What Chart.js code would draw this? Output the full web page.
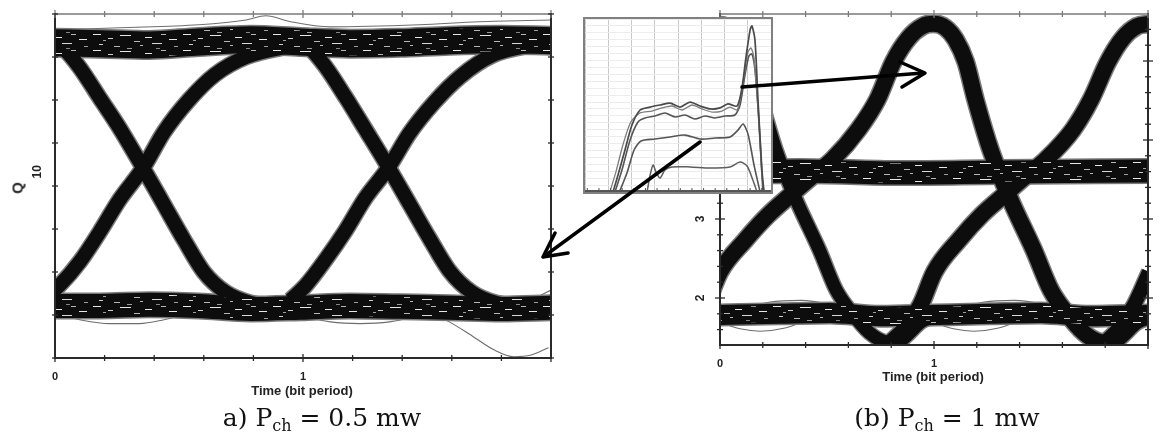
<!DOCTYPE html>
<html>
<head>
<meta charset="utf-8">
<script src="https://cdn.jsdelivr.net/npm/chart.js@4.4.1/dist/chart.umd.min.js"></script>
<style>
  html, body { margin: 0; padding: 0; background: #fff; }
  #wrap { position: relative; width: 1169px; height: 436px; overflow: hidden; background: #fff; }
  canvas { position: absolute; }
  #left  { left: 0; top: 0; }
  #right { left: 680px; top: 0; }
  #insetBox { position: absolute; left: 583px; top: 17px; width: 186px; height: 173px;
              border: 2px solid #808080; background: #fff; }
  #inset { left: 0; top: 0; }
  .axt { position: absolute; font: bold 13px "Liberation Sans", Arial, sans-serif; color: #222;
         transform: translateX(-50%); white-space: nowrap; line-height: 13px; }
  .qlab { position: absolute; font: bold 15px "Liberation Sans", Arial, sans-serif; color: #222;
          transform: translate(-50%, -50%) rotate(-90deg); line-height: 15px; }
  .cap { position: absolute; top: 403px; font-family: "DejaVu Serif", serif; font-size: 25px;
         color: #111; white-space: nowrap; transform: translateX(-50%); }
  .cap sub { font-size: 16px; vertical-align: -5px; line-height: 0; }
  svg { position: absolute; left: 0; top: 0; }
</style>
</head>
<body>
<div id="wrap">
  <canvas id="left" width="565" height="400"></canvas>
  <canvas id="right" width="489" height="400"></canvas>
  <div id="insetBox"><canvas id="inset" width="186" height="173"></canvas></div>

  <div class="qlab" style="left:17px; top:188px;">Q</div>
  <div class="axt" style="left:302px; top:384px;">Time (bit period)</div>
  <div class="axt" style="left:933px; top:370px;">Time (bit period)</div>

  <div class="cap" style="left:322px;">a) P<sub>ch</sub> = 0.5 mw</div>
  <div class="cap" style="left:947px;">(b) P<sub>ch</sub> = 1 mw</div>

  <svg width="1169" height="436" viewBox="0 0 1169 436">
    <g stroke="#000" stroke-width="3.5" fill="none" stroke-linecap="round" stroke-linejoin="round">
      <line x1="742" y1="87" x2="923" y2="73"/>
      <polyline points="900,62 925,73 902,87"/>
      <line x1="700" y1="142" x2="546" y2="255"/>
      <polyline points="555,233 543,257 568,253"/>
    </g>
  </svg>
</div>

<script>
// ---------- (a) P = 0.5 mW eye diagram : time in bit periods, Q ----------
const leftRailT  = [0, 0.18, 0.38, 0.58, 0.79, 0.99, 1.19, 1.39, 1.59, 1.80, 2.0];
const leftHighQ  = [13.0, 12.98, 12.95, 13.02, 13.07, 13.02, 12.98, 13.0, 13.05, 13.07, 13.05];
const leftLowQ   = [6.88, 6.88, 6.91, 6.88, 6.81, 6.84, 6.88, 6.86, 6.84, 6.81, 6.84];

const leftRise1T = [-0.04, 0.02, 0.10, 0.18, 0.26, 0.355, 0.44, 0.54, 0.645, 0.77, 0.91, 1.07];
const leftRise1Q = [7.07, 7.37, 7.91, 8.60, 9.35, 10.09, 10.93, 11.67, 12.26, 12.67, 12.88, 12.98];
const leftRise2T = [0.95, 1.01, 1.09, 1.17, 1.25, 1.345, 1.43, 1.53, 1.635, 1.76, 1.90, 2.06];
const leftRise2Q = [7.02, 7.35, 7.95, 8.62, 9.38, 10.10, 10.90, 11.62, 12.22, 12.70, 12.92, 13.0];

const leftFall1T = [-0.06, 0, 0.04, 0.10, 0.18, 0.26, 0.355, 0.44, 0.52, 0.60, 0.69, 0.79, 0.95];
const leftFall1Q = [13.12, 13.02, 12.84, 12.42, 11.72, 11.02, 10.09, 9.23, 8.42, 7.67, 7.19, 6.95, 6.84];
const leftFall2T = [0.93, 0.99, 1.03, 1.09, 1.17, 1.25, 1.345, 1.43, 1.51, 1.59, 1.68, 1.78, 1.94];
const leftFall2Q = [13.10, 13.0, 12.86, 12.45, 11.75, 11.0, 10.10, 9.25, 8.45, 7.70, 7.20, 6.95, 6.84];

// stray traces
const leftTopT  = [0, 0.26, 0.58, 0.77, 0.85, 0.95, 1.11, 1.47, 1.71, 2.0];
const leftTopQ  = [13.30, 13.35, 13.42, 13.53, 13.63, 13.49, 13.37, 13.42, 13.49, 13.53];
const leftArcAT = [0, 0.10, 0.22, 0.34, 0.44, 0.54];
const leftArcAQ = [6.70, 6.56, 6.47, 6.47, 6.56, 6.70];
const leftArcBT = [0.99, 1.11, 1.23, 1.35, 1.47];
const leftArcBQ = [6.65, 6.51, 6.47, 6.51, 6.65];
const leftDropT = [1.39, 1.51, 1.59, 1.67, 1.77, 1.85, 1.92, 1.99];
const leftDropQ = [6.84, 6.74, 6.51, 6.23, 5.86, 5.70, 5.74, 5.91];
const leftTailT = [1.86, 1.93, 2.0];
const leftTailQ = [6.90, 7.05, 7.25];

const leftYLabels = [10];
const leftXLabels = [0, 1];

// ---------- (b) P = 1 mW eye diagram : time in bit periods, amplitude ----------
const rightRailT = [0, 0.28, 0.515, 0.75, 1.0, 1.26, 1.50, 1.73, 2.0];
const rightLowV  = [1.785, 1.80, 1.81, 1.77, 1.785, 1.80, 1.81, 1.77, 1.785];
const rightMidT  = [0, 0.37, 0.84, 1.31, 2.0];
const rightMidV  = [3.595, 3.608, 3.582, 3.595, 3.608];

const hump0T = [-0.054, 0, 0.052, 0.098, 0.145, 0.192, 0.262, 0.356, 0.464, 0.543, 0.614, 0.698, 0.778, 0.825, 0.871, 0.941, 1.002];
const hump0V = [5.42, 5.47, 5.42, 5.27, 4.99, 4.51, 3.87, 3.24, 2.61, 2.10, 1.82, 1.56, 1.44, 1.43, 1.52, 1.70, 1.77];
const hump1T = [-0.206, -0.136, -0.066, 0, 0.117, 0.225, 0.328, 0.422, 0.525, 0.646, 0.735, 0.810, 0.881, 0.946, 0.998,
                1.054, 1.101, 1.148, 1.194, 1.265, 1.358, 1.466, 1.546, 1.616, 1.700, 1.780, 1.827, 1.874, 1.944, 2.005];
const hump1V = [1.43, 1.62, 1.91, 2.33, 2.73, 3.05, 3.30, 3.52, 3.75, 4.13, 4.51, 4.99, 5.29, 5.44, 5.47,
                5.42, 5.27, 4.99, 4.51, 3.87, 3.24, 2.61, 2.10, 1.82, 1.56, 1.44, 1.43, 1.52, 1.70, 1.77];
const hump2T = [0.796, 0.867, 0.937, 1.002, 1.115, 1.222, 1.326, 1.419, 1.522, 1.649, 1.733, 1.813, 1.883, 1.948, 2.005];
const hump2V = [1.43, 1.62, 1.91, 2.33, 2.73, 3.05, 3.30, 3.52, 3.75, 4.13, 4.51, 4.99, 5.29, 5.44, 5.47];
const hump3T = [1.794, 1.864, 1.934, 2.005];
const hump3V = [1.43, 1.62, 1.91, 2.33];

const rArcAT  = [0.009, 0.094, 0.187, 0.304, 0.407];
const rArcBT  = [1.007, 1.091, 1.185, 1.302, 1.405];
const rArcV   = [1.68, 1.61, 1.58, 1.62, 1.72];
const rBumpAT = [0.094, 0.234, 0.375, 0.515, 0.609];
const rBumpBT = [1.094, 1.234, 1.375, 1.515, 1.609];
const rBumpV  = [1.85, 1.95, 1.97, 1.92, 1.85];

const rightYLabels = [2, 3, 4, 5];

// ---------- inset : pulse power profiles ----------
const insAT = [1.105, 1.32, 1.62, 1.92, 2.27, 2.70, 3.13, 3.56, 3.99, 4.42, 4.85, 5.28, 5.71, 6.05, 6.44, 6.65, 6.82, 7.00, 7.08, 7.21, 7.34, 7.51, 7.60];
const insAV = [0, 0.098, 0.243, 0.387, 0.474, 0.491, 0.503, 0.514, 0.491, 0.520, 0.497, 0.480, 0.486, 0.509, 0.497, 0.601, 0.775, 0.936, 0.960, 0.879, 0.532, 0.127, 0];
const insET = [0.97, 1.23, 1.53, 1.87, 2.27, 2.78, 3.21, 3.64, 4.07, 4.50, 4.93, 5.36, 5.79, 6.14, 6.44, 6.61, 6.78, 6.91, 7.04, 7.17, 7.34, 7.51, 7.60];
const insEV = [0, 0.116, 0.272, 0.405, 0.457, 0.468, 0.486, 0.497, 0.474, 0.503, 0.480, 0.462, 0.468, 0.491, 0.474, 0.561, 0.705, 0.809, 0.832, 0.775, 0.474, 0.098, 0];
const insBT = [1.19, 1.49, 1.84, 2.18, 2.48, 2.91, 3.34, 3.77, 4.20, 4.63, 5.06, 5.49, 5.92, 6.35, 6.57, 6.78, 6.95, 7.08, 7.21, 7.38, 7.55];
const insBV = [0, 0.127, 0.301, 0.405, 0.428, 0.439, 0.457, 0.434, 0.445, 0.422, 0.439, 0.428, 0.439, 0.445, 0.503, 0.676, 0.786, 0.798, 0.705, 0.416, 0];
const insCT = [1.38, 1.72, 2.01, 2.31, 2.91, 3.56, 4.20, 4.85, 5.49, 6.14, 6.48, 6.70, 6.91, 7.17, 7.43];
const insCV = [0, 0.116, 0.243, 0.295, 0.306, 0.318, 0.329, 0.306, 0.312, 0.318, 0.358, 0.393, 0.335, 0.156, 0];
const insDT = [2.57, 2.70, 2.83, 2.95, 3.13, 3.34, 3.64, 4.42, 5.28, 6.14, 6.57, 6.87, 7.12, 7.30];
const insDV = [0, 0.098, 0.156, 0.116, 0.081, 0.127, 0.145, 0.145, 0.139, 0.145, 0.173, 0.150, 0.069, 0];

// ---------- helpers ----------
const INK = '#0d0d0d';
const pts = (ts, vs) => ts.map((t, i) => ({ x: t, y: vs[i] }));

// dense trace texture for the rails: dark fill broken by short light streaks
function streakPattern(ctx) {
  const tile = document.createElement('canvas');
  tile.width = 90; tile.height = 16;
  const g = tile.getContext('2d');
  g.fillStyle = INK; g.fillRect(0, 0, 90, 16);
  g.lineWidth = 1;
  const marks = [[3, 2.5, 8, 0.9], [18, 6.5, 5, 0.8], [30, 3.5, 11, 0.9], [44, 9.5, 6, 0.7], [9, 12.5, 4, 0.8],
                 [37, 0.5, 5, 0.6], [55, 5.5, 7, 0.9], [24, 14.5, 6, 0.7], [62, 11.5, 10, 0.85], [71, 2.5, 5, 0.7],
                 [79, 7.5, 8, 0.9], [84, 14.5, 4, 0.6], [50, 13.5, 3, 0.7], [13, 8.5, 3, 0.6], [66, 0.5, 4, 0.5]];
  marks.forEach(([x, y, l, a]) => {
    g.strokeStyle = 'rgba(255,255,255,' + a + ')';
    g.beginPath(); g.moveTo(x, y); g.lineTo(x + l, y); g.stroke();
  });
  return ctx.createPattern(tile, 'repeat');
}

function lineSet(data, color, width, extra) {
  return Object.assign({ data, borderColor: color, borderWidth: width, pointRadius: 0,
    cubicInterpolationMode: 'monotone', fill: false, clip: 0 }, extra || {});
}

// builds layered datasets: strays at the bottom, gray halos, black cores, streaked rails on top
function buildLayers(strays, bands, rails, pattern) {
  const under = [], core = [], top = [];
  strays.forEach(d => under.push(lineSet(d, '#6e6e6e', 1.1)));
  bands.concat(rails).forEach(b => {
    under.push(lineSet(b.d, '#7a7a7a', b.w + 3));
    core.push(lineSet(b.d, INK, b.w));
  });
  rails.forEach(b => top.push(lineSet(b.d, pattern, b.w - 4)));
  const all = under.concat(core, top);
  all.forEach((ds, i) => { ds.order = all.length - i; });
  return all;
}

const isInt = v => Math.abs(v - Math.round(v)) < 1e-6;

const axisFrame = {
  id: 'axisFrame',
  afterDatasetsDraw(chart, args, o) {
    const { ctx, chartArea: a } = chart;
    const x = chart.scales.x, y = chart.scales.y;
    const seg = (x1, y1, x2, y2) => { ctx.beginPath(); ctx.moveTo(x1, y1); ctx.lineTo(x2, y2); ctx.stroke(); };
    ctx.save();
    ctx.lineWidth = 2;
    ctx.strokeStyle = '#9a9a9a';
    seg(a.left, a.top, a.right, a.top);
    ctx.strokeStyle = '#2a2a2a';
    seg(a.left, a.top - 1, a.left, a.bottom + 1);
    seg(a.left - 1, a.bottom, a.right + 1, a.bottom);
    seg(a.right, a.top - 1, a.right, a.bottom + 1);
    ctx.lineWidth = 1.3;
    x.ticks.forEach(t => {
      const px = x.getPixelForValue(t.value);
      const L = isInt(t.value) ? 4 : 3;
      ctx.strokeStyle = '#2a2a2a'; seg(px, a.bottom - L, px, a.bottom + L);
      ctx.strokeStyle = '#7a7a7a'; seg(px, a.top - L, px, a.top + L);
    });
    ctx.strokeStyle = '#2a2a2a';
    y.ticks.forEach(t => {
      const py = y.getPixelForValue(t.value);
      const L = o.majors.some(m => Math.abs(m - t.value) < 1e-6) ? 5 : 3;
      seg(a.left - L, py, a.left + L, py);
      seg(a.right - L, py, a.right + L, py);
    });
    ctx.fillStyle = '#222';
    ctx.font = 'bold 12px "Liberation Sans", Arial, sans-serif';
    ctx.textAlign = 'center'; ctx.textBaseline = 'middle';
    o.labels.forEach(v => {
      const py = y.getPixelForValue(v);
      if (py < a.top || py > a.bottom) return;
      ctx.save(); ctx.translate(o.labelX, py); ctx.rotate(-Math.PI / 2);
      ctx.fillText(String(v), 0, 0); ctx.restore();
    });
    ctx.restore();
  }
};

function eyeOptions(cfg) {
  return {
    responsive: false, animation: false, events: [],
    layout: { padding: cfg.padding },
    plugins: { legend: { display: false }, tooltip: { enabled: false }, axisFrame: cfg.frame },
    scales: {
      x: {
        type: 'linear', min: 0, max: 2, position: 'bottom',
        afterFit: s => { s.height = cfg.xHeight; },
        grid: { display: false, drawTicks: false }, border: { display: false },
        ticks: {
          stepSize: 0.2, autoSkip: false, maxRotation: 0, padding: 12, color: '#222',
          font: { family: '"Liberation Sans", Arial, sans-serif', size: 11, weight: 'bold' },
          callback: v => (cfg.xLabels.some(l => Math.abs(l - v) < 1e-6) ? String(Math.round(v)) : '')
        }
      },
      y: {
        type: 'linear', min: cfg.yMin, max: cfg.yMax,
        afterFit: s => { s.width = cfg.yWidth; },
        grid: { display: false, drawTicks: false }, border: { display: false },
        ticks: { display: false, stepSize: cfg.yStep, includeBounds: false }
      }
    }
  };
}

// ---------- chart (a) ----------
const leftCanvas = document.getElementById('left');
const leftPattern = streakPattern(leftCanvas.getContext('2d'));
new Chart(leftCanvas, {
  type: 'line',
  data: {
    datasets: buildLayers(
      [pts(leftTopT, leftTopQ), pts(leftArcAT, leftArcAQ), pts(leftArcBT, leftArcBQ),
       pts(leftDropT, leftDropQ), pts(leftTailT, leftTailQ)],
      [{ d: pts(leftRise1T, leftRise1Q), w: 14 }, { d: pts(leftFall1T, leftFall1Q), w: 14 },
       { d: pts(leftRise2T, leftRise2Q), w: 14 }, { d: pts(leftFall2T, leftFall2Q), w: 14 }],
      [{ d: pts(leftRailT, leftHighQ), w: 27 }, { d: pts(leftRailT, leftLowQ), w: 24 }],
      leftPattern)
  },
  options: eyeOptions({
    padding: { top: 14, right: 14, left: 0, bottom: 0 },
    xHeight: 42, yWidth: 55, yMin: 5.67, yMax: 13.67, yStep: 1, xLabels: leftXLabels,
    frame: { majors: [10], labels: leftYLabels, labelX: 38 }
  }),
  plugins: [axisFrame]
});

// ---------- chart (b) ----------
const rightCanvas = document.getElementById('right');
const rightPattern = streakPattern(rightCanvas.getContext('2d'));
new Chart(rightCanvas, {
  type: 'line',
  data: {
    datasets: buildLayers(
      [pts(rArcAT, rArcV), pts(rArcBT, rArcV), pts(rBumpAT, rBumpV), pts(rBumpBT, rBumpV)],
      [{ d: pts(hump0T, hump0V), w: 13 }, { d: pts(hump1T, hump1V), w: 16 },
       { d: pts(hump2T, hump2V), w: 16 }, { d: pts(hump3T, hump3V), w: 14 }],
      [{ d: pts(rightRailT, rightLowV), w: 20 }, { d: pts(rightMidT, rightMidV), w: 23 }],
      rightPattern)
  },
  options: eyeOptions({
    padding: { top: 14, right: 21, left: 0, bottom: 0 },
    xHeight: 55, yWidth: 40, yMin: 1.405, yMax: 5.595, yStep: 0.2, xLabels: leftXLabels,
    frame: { majors: [2, 3, 4, 5], labels: rightYLabels, labelX: 21 }
  }),
  plugins: [axisFrame]
});

// ---------- inset ----------
const insetFrame = {
  id: 'insetFrame',
  afterDatasetsDraw(chart) {
    const { ctx, chartArea: a } = chart;
    const x = chart.scales.x;
    ctx.save();
    ctx.strokeStyle = '#555'; ctx.lineWidth = 2;
    ctx.beginPath(); ctx.moveTo(a.left, a.bottom - 1); ctx.lineTo(a.right, a.bottom - 1); ctx.stroke();
    ctx.lineWidth = 1;
    for (let v = 0; v <= 7.5; v += 0.5) {
      const px = x.getPixelForValue(v);
      ctx.beginPath(); ctx.moveTo(px, a.bottom - 4); ctx.lineTo(px, a.bottom); ctx.stroke();
    }
    ctx.restore();
  }
};
const insetSet = (d, c, w) => ({ data: d, borderColor: c, borderWidth: w, pointRadius: 0,
  tension: 0.25, fill: false, clip: 0 });
new Chart(document.getElementById('inset'), {
  type: 'line',
  data: {
    datasets: [
      insetSet(pts(insAT, insAV), '#4a4a4a', 1.7),
      insetSet(pts(insET, insEV), '#7d7d7d', 1.3),
      insetSet(pts(insBT, insBV), '#555', 1.6),
      insetSet(pts(insCT, insCV), '#555', 1.6),
      insetSet(pts(insDT, insDV), '#5e5e5e', 1.5)
    ]
  },
  options: {
    responsive: false, animation: false, events: [],
    layout: { padding: 0 },
    plugins: { legend: { display: false }, tooltip: { enabled: false } },
    scales: {
      x: { type: 'linear', min: -0.1, max: 7.9, afterFit: s => { s.height = 0; },
           ticks: { display: false, stepSize: 1 }, border: { display: false },
           grid: { color: '#c9c9c9', lineWidth: 1, drawTicks: false } },
      y: { type: 'linear', min: 0, max: 1, afterFit: s => { s.width = 0; },
           ticks: { display: false, stepSize: 0.04 }, border: { display: false },
           grid: { color: '#ececec', lineWidth: 1, drawTicks: false } }
    }
  },
  plugins: [insetFrame]
});
</script>
</body>
</html>
